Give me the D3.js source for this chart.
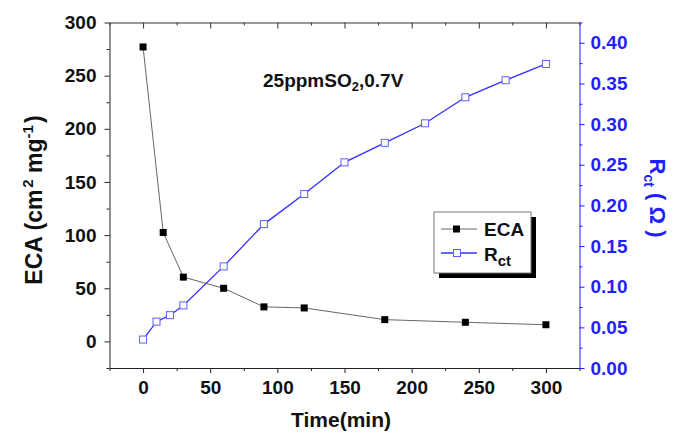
<!DOCTYPE html>
<html>
<head>
<meta charset="utf-8">
<script src="https://d3js.org/d3.v7.min.js"></script>
<style>
  body { margin: 0; background: #fff; }
  svg { display: block; font-family: "Liberation Sans", Arial, sans-serif; }
  .axis text { font-weight: bold; font-size: 19px; }
</style>
</head>
<body>
<script>
// ECA series (black filled squares)
var ecaTime = [0, 15, 30, 60, 90, 120, 180, 240, 300];
var ecaValues = [277, 102.5, 60.5, 50, 32.5, 31.5, 20.5, 18, 15.7];

// Rct series (blue open squares)
var rctTime = [0, 10, 20, 30, 60, 90, 120, 150, 180, 210, 240, 270, 300];
var rctValues = [0.035, 0.057, 0.065, 0.077, 0.125, 0.177, 0.214, 0.253, 0.277, 0.301, 0.333, 0.354, 0.374];

// tick values
var xTicks = [0, 50, 100, 150, 200, 250, 300];
var xMinor = [-25, 25, 75, 125, 175, 225, 275, 325];
var yLeftTicks = [0, 50, 100, 150, 200, 250, 300];
var yLeftMinor = [-25, 25, 75, 125, 175, 225, 275];
var yRightTicks = [0, 0.05, 0.10, 0.15, 0.20, 0.25, 0.30, 0.35, 0.40];
var yRightMinor = [0.025, 0.075, 0.125, 0.175, 0.225, 0.275, 0.325, 0.375, 0.425];

var W = 683, H = 433;
var pLeft = 109.5, pRight = 579.5, pTop = 22.5, pBottom = 368;
var blue = "#1f1fff";

var svg = d3.select("body").append("svg")
  .attr("width", W)
  .attr("height", H);

var x = d3.scaleLinear().domain([-25, 325]).range([pLeft, pRight]);
var yL = d3.scaleLinear().domain([-25, 300]).range([pBottom, pTop]);
var yR = d3.scaleLinear().domain([0, 0.425]).range([pBottom, pTop]);

// top frame, ticks pointing in
svg.append("g")
  .attr("transform", "translate(0," + pTop + ")")
  .call(d3.axisTop(x).tickValues(xTicks).tickSize(-6).tickSizeOuter(0).tickFormat(""))
  .call(function(g) { g.selectAll("path,line").attr("stroke", "#333"); });
svg.append("g")
  .attr("transform", "translate(0," + pTop + ")")
  .call(d3.axisTop(x).tickValues(xMinor).tickSize(-3).tickFormat(""))
  .call(function(g) { g.select(".domain").remove(); g.selectAll("line").attr("stroke", "#333"); });

// bottom axis
svg.append("g")
  .attr("class", "axis")
  .attr("transform", "translate(0," + pBottom + ")")
  .call(d3.axisBottom(x).tickValues(xTicks).tickSize(5).tickPadding(8).tickSizeOuter(0))
  .call(function(g) { g.selectAll("path,line").attr("stroke", "#222"); g.selectAll("text").attr("fill", "#111"); });
svg.append("g")
  .attr("transform", "translate(0," + pBottom + ")")
  .call(d3.axisBottom(x).tickValues(xMinor).tickSize(3).tickFormat(""))
  .call(function(g) { g.select(".domain").remove(); g.selectAll("line").attr("stroke", "#222"); });

// left axis
svg.append("g")
  .attr("class", "axis")
  .attr("transform", "translate(" + pLeft + ",0)")
  .call(d3.axisLeft(yL).tickValues(yLeftTicks).tickSize(5).tickPadding(8).tickSizeOuter(0))
  .call(function(g) { g.selectAll("path,line").attr("stroke", "#222"); g.selectAll("text").attr("fill", "#111"); });
svg.append("g")
  .attr("transform", "translate(" + pLeft + ",0)")
  .call(d3.axisLeft(yL).tickValues(yLeftMinor).tickSize(3).tickFormat(""))
  .call(function(g) { g.select(".domain").remove(); g.selectAll("line").attr("stroke", "#222"); });

// right axis (blue)
svg.append("g")
  .attr("class", "axis")
  .attr("transform", "translate(" + pRight + ",0)")
  .call(d3.axisRight(yR).tickValues(yRightTicks).tickSize(5).tickPadding(6).tickSizeOuter(0).tickFormat(d3.format(".2f")))
  .call(function(g) { g.selectAll("path,line").attr("stroke", blue); g.selectAll("text").attr("fill", blue); });
svg.append("g")
  .attr("transform", "translate(" + pRight + ",0)")
  .call(d3.axisRight(yR).tickValues(yRightMinor).tickSize(3).tickFormat(""))
  .call(function(g) { g.select(".domain").remove(); g.selectAll("line").attr("stroke", blue); });

// ECA line + markers
var ecaData = ecaTime.map(function(t, i) { return { t: t, v: ecaValues[i] }; });
svg.append("path")
  .datum(ecaData)
  .attr("fill", "none")
  .attr("stroke", "#666")
  .attr("stroke-width", 1)
  .attr("d", d3.line().x(function(d) { return x(d.t); }).y(function(d) { return yL(d.v); }));
svg.selectAll(".eca").data(ecaData).enter().append("rect")
  .attr("class", "eca")
  .attr("x", function(d) { return x(d.t) - 3.5; })
  .attr("y", function(d) { return yL(d.v) - 3.5; })
  .attr("width", 7).attr("height", 7)
  .attr("fill", "#000");

// Rct line + markers
var rctData = rctTime.map(function(t, i) { return { t: t, v: rctValues[i] }; });
svg.append("path")
  .datum(rctData)
  .attr("fill", "none")
  .attr("stroke", "#3030ff")
  .attr("stroke-width", 1.3)
  .attr("d", d3.line().x(function(d) { return x(d.t); }).y(function(d) { return yR(d.v); }));
svg.selectAll(".rct").data(rctData).enter().append("rect")
  .attr("class", "rct")
  .attr("x", function(d) { return x(d.t) - 3.5; })
  .attr("y", function(d) { return yR(d.v) - 3.5; })
  .attr("width", 7).attr("height", 7)
  .attr("fill", "#fff")
  .attr("stroke", "#6060ff")
  .attr("stroke-width", 1);

// annotation
var ann = svg.append("text")
  .attr("x", 263).attr("y", 87)
  .attr("font-size", 19).attr("font-weight", "bold").attr("fill", "#111");
ann.append("tspan").text("25ppmSO");
ann.append("tspan").attr("dy", 4).attr("font-size", 13).text("2");
ann.append("tspan").attr("dy", -4).text(",0.7V");

// axis titles
svg.append("text")
  .attr("transform", "translate(341,427)")
  .attr("text-anchor", "middle")
  .attr("font-size", 21).attr("font-weight", "bold").attr("fill", "#111")
  .text("Time(min)");

var yt = svg.append("text")
  .attr("transform", "translate(42,200) rotate(-90)")
  .attr("text-anchor", "middle")
  .attr("font-size", 23).attr("font-weight", "bold").attr("fill", "#111");
yt.append("tspan").text("ECA (cm");
yt.append("tspan").attr("dy", -9).attr("dx", 2).attr("font-size", 15).text("2");
yt.append("tspan").attr("dy", 9).text(" mg");
yt.append("tspan").attr("dy", -9).attr("font-size", 15).text("-1");
yt.append("tspan").attr("dy", 9).attr("dx", 2).text(")");

var rt = svg.append("text")
  .attr("transform", "translate(650,198) rotate(90)")
  .attr("text-anchor", "middle")
  .attr("font-size", 22).attr("font-weight", "bold").attr("fill", blue);
rt.append("tspan").text("R");
rt.append("tspan").attr("dy", 6).attr("font-size", 14).text("ct");
rt.append("tspan").attr("dy", -6).text(" ( \u03A9 )");

// legend
var lg = svg.append("g");
lg.append("rect").attr("x", 439).attr("y", 217).attr("width", 97).attr("height", 61).attr("fill", "#000");
lg.append("rect").attr("x", 434).attr("y", 212).attr("width", 97).attr("height", 61)
  .attr("fill", "#fff").attr("stroke", "#777").attr("stroke-width", 1);
lg.append("line").attr("x1", 441).attr("x2", 477).attr("y1", 229).attr("y2", 229).attr("stroke", "#666");
lg.append("rect").attr("x", 453).attr("y", 225.5).attr("width", 7).attr("height", 7).attr("fill", "#000");
lg.append("text").attr("x", 484).attr("y", 236).attr("font-size", 19).attr("font-weight", "bold").attr("fill", "#111").text("ECA");
lg.append("line").attr("x1", 441).attr("x2", 477).attr("y1", 253).attr("y2", 253).attr("stroke", "#3030ff").attr("stroke-width", 1.3);
lg.append("rect").attr("x", 453.5).attr("y", 249.5).attr("width", 7).attr("height", 7)
  .attr("fill", "#fff").attr("stroke", "#6060ff");
var lr = lg.append("text").attr("x", 484).attr("y", 261).attr("font-size", 19).attr("font-weight", "bold").attr("fill", "#111");
lr.append("tspan").text("R");
lr.append("tspan").attr("dy", 5).attr("font-size", 15).text("ct");
</script>
</body>
</html>
